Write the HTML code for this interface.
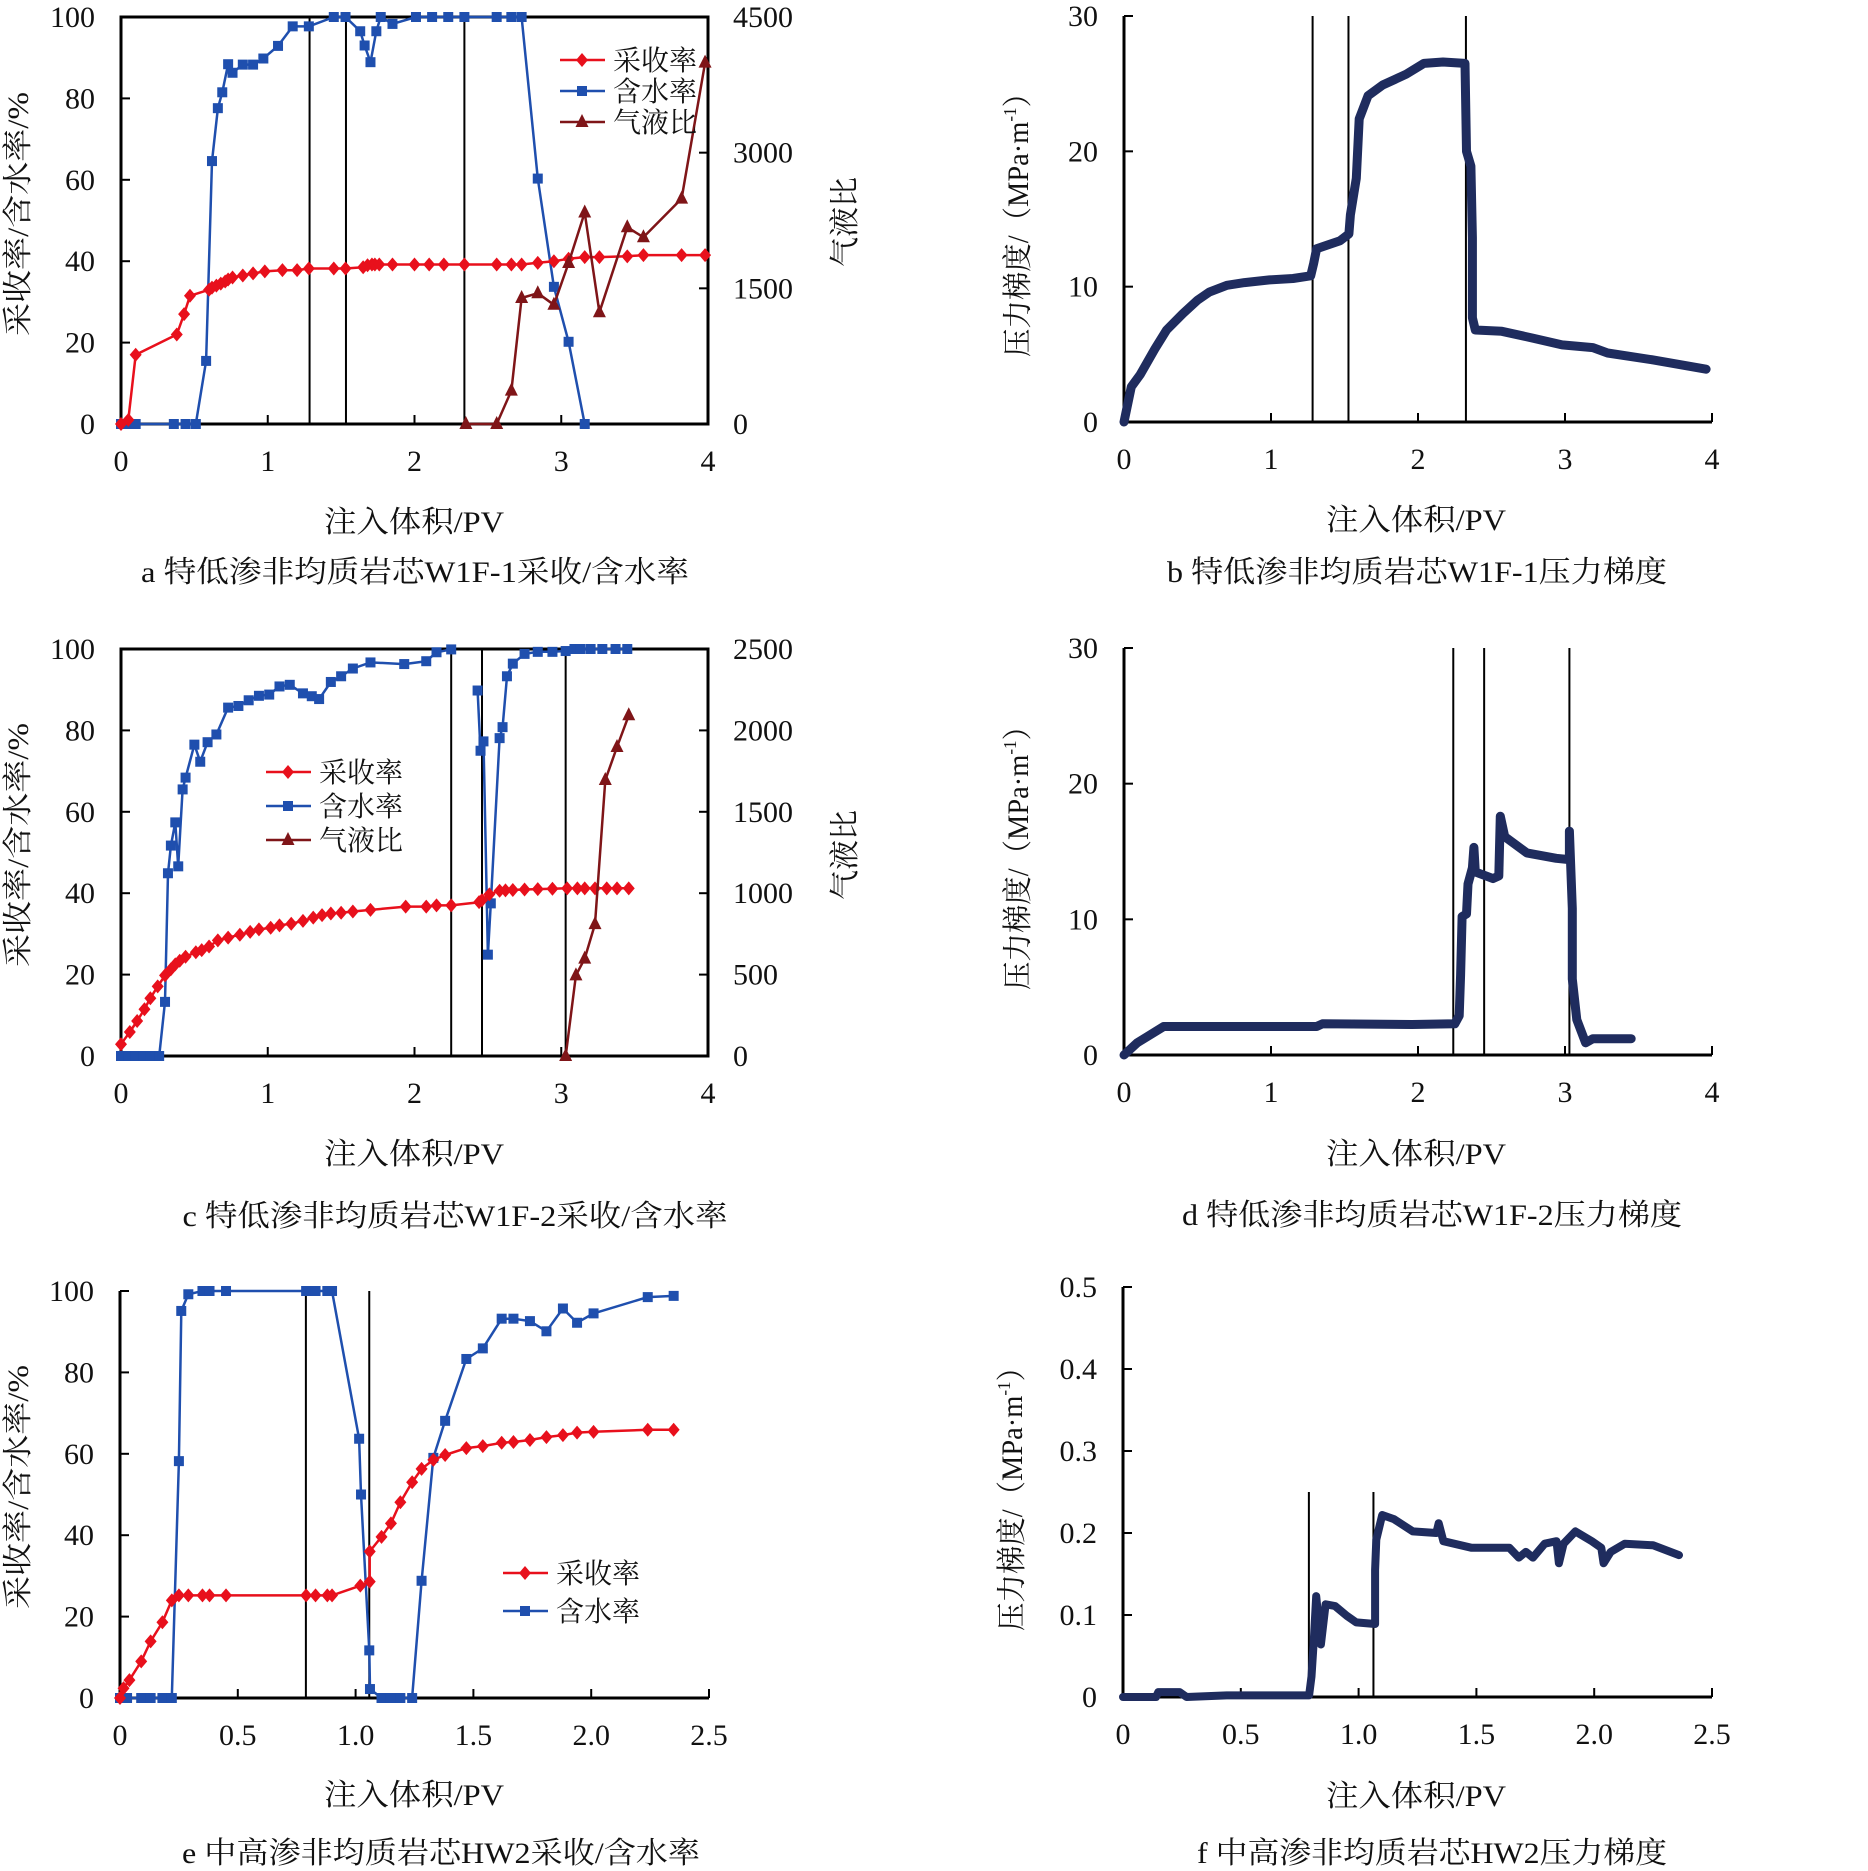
<!DOCTYPE html>
<html><head><meta charset="utf-8"><style>
html,body{margin:0;padding:0;background:#fff;}
svg{display:block;}
text{font-family:"Liberation Serif","Noto Serif CJK SC",serif;fill:#111;}
</style></head><body>
<svg id="fig" xmlns="http://www.w3.org/2000/svg" width="1868" height="1871" viewBox="0 0 1868 1871">
<rect x="0" y="0" width="1868" height="1871" fill="#fff"/>
<!-- chart a texts -->
<text transform="translate(28,214) rotate(-90)" text-anchor="middle" font-size="30" textLength="244" lengthAdjust="spacingAndGlyphs">采收率/含水率/%</text>
<text transform="translate(855,222) rotate(-90)" text-anchor="middle" font-size="30">气液比</text>
<text x="414" y="532" text-anchor="middle" font-size="30" textLength="180" lengthAdjust="spacingAndGlyphs">注入体积/PV</text>
<text x="415" y="582" text-anchor="middle" font-size="30" textLength="548" lengthAdjust="spacingAndGlyphs">a  特低渗非均质岩芯W1F-1采收/含水率</text>
<!-- chart b texts -->
<text transform="translate(1028,218) rotate(-90)" text-anchor="middle" font-size="30" textLength="278" lengthAdjust="spacingAndGlyphs">压力梯度/（MPa·m<tspan font-size="18" dy="-12">-1</tspan><tspan dy="12">）</tspan></text>
<text x="1416" y="530" text-anchor="middle" font-size="30" textLength="180" lengthAdjust="spacingAndGlyphs">注入体积/PV</text>
<text x="1417" y="582" text-anchor="middle" font-size="30" textLength="500" lengthAdjust="spacingAndGlyphs">b  特低渗非均质岩芯W1F-1压力梯度</text>
<!-- chart c texts -->
<text transform="translate(28,845) rotate(-90)" text-anchor="middle" font-size="30" textLength="244" lengthAdjust="spacingAndGlyphs">采收率/含水率/%</text>
<text transform="translate(855,855) rotate(-90)" text-anchor="middle" font-size="30">气液比</text>
<text x="414" y="1164" text-anchor="middle" font-size="30" textLength="180" lengthAdjust="spacingAndGlyphs">注入体积/PV</text>
<text x="455" y="1226" text-anchor="middle" font-size="30" textLength="545" lengthAdjust="spacingAndGlyphs">c  特低渗非均质岩芯W1F-2采收/含水率</text>
<!-- chart d texts -->
<text transform="translate(1028,851) rotate(-90)" text-anchor="middle" font-size="30" textLength="278" lengthAdjust="spacingAndGlyphs">压力梯度/（MPa·m<tspan font-size="18" dy="-12">-1</tspan><tspan dy="12">）</tspan></text>
<text x="1416" y="1164" text-anchor="middle" font-size="30" textLength="180" lengthAdjust="spacingAndGlyphs">注入体积/PV</text>
<text x="1432" y="1225" text-anchor="middle" font-size="30" textLength="500" lengthAdjust="spacingAndGlyphs">d  特低渗非均质岩芯W1F-2压力梯度</text>
<!-- chart e texts -->
<text transform="translate(28,1487) rotate(-90)" text-anchor="middle" font-size="30" textLength="244" lengthAdjust="spacingAndGlyphs">采收率/含水率/%</text>
<text x="414" y="1805" text-anchor="middle" font-size="30" textLength="180" lengthAdjust="spacingAndGlyphs">注入体积/PV</text>
<text x="441" y="1863" text-anchor="middle" font-size="30" textLength="518" lengthAdjust="spacingAndGlyphs">e  中高渗非均质岩芯HW2采收/含水率</text>
<!-- chart f texts -->
<text transform="translate(1022,1492) rotate(-90)" text-anchor="middle" font-size="30" textLength="278" lengthAdjust="spacingAndGlyphs">压力梯度/（MPa·m<tspan font-size="18" dy="-12">-1</tspan><tspan dy="12">）</tspan></text>
<text x="1416" y="1806" text-anchor="middle" font-size="30" textLength="180" lengthAdjust="spacingAndGlyphs">注入体积/PV</text>
<text x="1432" y="1863" text-anchor="middle" font-size="30" textLength="470" lengthAdjust="spacingAndGlyphs">f  中高渗非均质岩芯HW2压力梯度</text>
</svg>
<script>
// ---------- data ----------
const aXTicks = ["0","1","2","3","4"];
const aYTicks = ["0","20","40","60","80","100"];
const aY2Ticks = ["0","1500","3000","4500"];
const aVLines = [1.285, 1.533, 2.34];
const aRecovery = [[0,0],[0.05,1],[0.1,17],[0.38,22],[0.43,27],[0.47,31.5],[0.6,33],[0.62,33.5],[0.65,34],[0.68,34.5],[0.71,35],[0.73,35.5],[0.76,36],[0.83,36.5],[0.9,37],[0.98,37.5],[1.1,37.8],[1.2,37.8],[1.28,38.2],[1.45,38.2],[1.53,38.2],[1.65,38.5],[1.68,39],[1.71,39.2],[1.73,39.2],[1.76,39.2],[1.85,39.2],[2.0,39.2],[2.1,39.2],[2.2,39.2],[2.34,39.2],[2.56,39.2],[2.66,39.2],[2.73,39.2],[2.84,39.6],[2.95,40],[3.05,40.6],[3.16,41],[3.26,41],[3.45,41.2],[3.56,41.5],[3.82,41.5],[3.98,41.5]];
const aWaterCut = [[0,0],[0.05,0],[0.1,0],[0.36,0],[0.44,0],[0.51,0],[0.58,15.5],[0.62,64.6],[0.66,77.6],[0.69,81.5],[0.73,88.4],[0.76,86.3],[0.83,88.3],[0.9,88.3],[0.97,89.8],[1.07,92.9],[1.17,97.7],[1.28,97.7],[1.45,100],[1.53,100],[1.63,96.5],[1.66,93],[1.7,88.9],[1.74,96.5],[1.77,100],[1.85,98.3],[2.01,100],[2.12,100],[2.23,100],[2.34,100],[2.56,100],[2.66,100],[2.73,100],[2.84,60.3],[2.95,33.7],[3.05,20.2],[3.16,0]];
const aGasLiquid = [[2.35,0],[2.56,0],[2.66,369],[2.73,1393],[2.84,1446],[2.95,1318],[3.05,1780],[3.16,2338],[3.26,1235],[3.45,2175],[3.56,2065],[3.82,2492],[3.98,3995]];

const bXTicks = ["0","1","2","3","4"];
const bYTicks = ["0","10","20","30"];
const bVLines = [1.283, 1.527, 2.326];
const bPressure = [[0,0],[0.05,2.6],[0.11,3.5],[0.21,5.4],[0.29,6.8],[0.40,8.0],[0.50,9.0],[0.58,9.6],[0.70,10.1],[0.82,10.3],[0.99,10.5],[1.15,10.6],[1.27,10.8],[1.29,11.7],[1.31,12.8],[1.39,13.1],[1.47,13.4],[1.53,13.9],[1.54,15.3],[1.58,18],[1.60,22.4],[1.66,24.1],[1.76,24.9],[1.84,25.3],[1.92,25.7],[2.04,26.5],[2.17,26.6],[2.32,26.5],[2.33,20],[2.36,18.9],[2.37,13.6],[2.37,7.7],[2.39,6.8],[2.57,6.7],[2.78,6.2],[2.98,5.7],[3.19,5.5],[3.29,5.1],[3.59,4.6],[3.96,3.9]];

const cXTicks = ["0","1","2","3","4"];
const cYTicks = ["0","20","40","60","80","100"];
const cY2Ticks = ["0","500","1000","1500","2000","2500"];
const cVLines = [2.25, 2.46, 3.03];
const cRecovery = [[0,2.9],[0.06,5.9],[0.11,8.6],[0.16,11.5],[0.2,14.2],[0.25,17.1],[0.3,19.8],[0.34,21.3],[0.37,22.5],[0.4,23.4],[0.44,24.4],[0.51,25.5],[0.55,26],[0.6,26.9],[0.66,28.4],[0.73,29.1],[0.81,29.8],[0.88,30.5],[0.94,31.1],[1.02,31.5],[1.08,32.1],[1.16,32.5],[1.24,33.2],[1.31,34],[1.37,34.6],[1.43,35],[1.5,35.2],[1.58,35.5],[1.7,35.9],[1.94,36.7],[2.08,36.7],[2.15,37],[2.25,37],[2.44,37.8],[2.46,38.3],[2.51,39.7],[2.58,40.6],[2.62,40.7],[2.67,40.8],[2.75,40.9],[2.84,41],[2.94,41.1],[3.04,41.2],[3.11,41.2],[3.16,41.2],[3.23,41.2],[3.31,41.2],[3.38,41.2],[3.46,41.2]];
const cWaterCut1 = [[0,0],[0.05,0],[0.1,0],[0.15,0],[0.2,0],[0.26,0],[0.3,13.3],[0.32,44.9],[0.34,51.7],[0.37,57.4],[0.39,46.6],[0.42,65.5],[0.44,68.4],[0.5,76.5],[0.54,72.3],[0.59,77.1],[0.65,79],[0.73,85.6],[0.8,86],[0.87,87.4],[0.94,88.5],[1.01,88.8],[1.08,90.8],[1.15,91.2],[1.24,89.1],[1.3,88.4],[1.35,87.7],[1.43,91.9],[1.5,93.3],[1.58,95.2],[1.7,96.7],[1.93,96.3],[2.08,97],[2.15,99.2],[2.25,99.9]];
const cWaterCut2 = [[2.43,89.8],[2.45,75],[2.47,77.3],[2.5,24.9],[2.52,37.5],[2.58,78.1],[2.6,80.8],[2.63,93.3],[2.67,96.4],[2.75,98.8],[2.84,99.3],[2.94,99.3],[3.03,99.5],[3.09,100],[3.13,100],[3.2,100],[3.28,100],[3.37,100],[3.45,100]];
const cGasLiquid = [[3.03,0],[3.1,495],[3.16,598],[3.23,810],[3.3,1695],[3.38,1898],[3.46,2093]];

const dXTicks = ["0","1","2","3","4"];
const dYTicks = ["0","10","20","30"];
const dVLines = [2.24, 2.45, 3.03];
const dPressure = [[0,0],[0.09,0.9],[0.27,2.1],[0.33,2.1],[1.31,2.1],[1.35,2.3],[1.96,2.25],[2.25,2.3],[2.28,2.9],[2.29,5.9],[2.3,10.2],[2.33,10.4],[2.34,12.6],[2.37,13.8],[2.38,15.3],[2.39,13.5],[2.51,13],[2.55,13.2],[2.56,17.6],[2.59,16.1],[2.74,14.9],[2.94,14.5],[3.03,14.4],[3.03,16.5],[3.05,10.8],[3.05,5.6],[3.08,2.6],[3.14,0.9],[3.19,1.2],[3.45,1.2]];

const eXTicks = ["0","0.5","1.0","1.5","2.0","2.5"];
const eYTicks = ["0","20","40","60","80","100"];
const eVLines = [0.789, 1.058];
const eRecovery = [[0,0],[0.015,2.4],[0.04,4.4],[0.09,9],[0.13,13.9],[0.18,18.6],[0.22,24],[0.25,25.2],[0.29,25.2],[0.35,25.2],[0.38,25.2],[0.45,25.2],[0.79,25.2],[0.83,25.2],[0.88,25.2],[0.9,25.2],[1.02,27.6],[1.06,28.6],[1.06,36],[1.11,39.6],[1.15,42.9],[1.19,48.1],[1.24,53],[1.28,56.3],[1.33,58.5],[1.38,59.7],[1.47,61.4],[1.54,61.9],[1.62,62.7],[1.67,62.9],[1.74,63.4],[1.81,64.1],[1.88,64.6],[1.94,65.2],[2.01,65.4],[2.24,65.9],[2.35,65.9]];
const eWaterCut = [[0,0],[0.03,0],[0.09,0],[0.13,0],[0.18,0],[0.22,0],[0.25,58.2],[0.26,95.1],[0.29,99.2],[0.35,100],[0.38,100],[0.45,100],[0.79,100],[0.83,100],[0.88,100],[0.9,100],[1.015,63.7],[1.023,50],[1.058,11.7],[1.061,2.2],[1.11,0],[1.15,0],[1.19,0],[1.24,0],[1.28,28.8],[1.33,59],[1.38,68.1],[1.47,83.3],[1.54,85.9],[1.62,93.2],[1.67,93.2],[1.74,92.6],[1.81,90.1],[1.88,95.7],[1.94,92.2],[2.01,94.5],[2.24,98.5],[2.35,98.8]];

const fXTicks = ["0","0.5","1.0","1.5","2.0","2.5"];
const fYTicks = ["0","0.1","0.2","0.3","0.4","0.5"];
const fVLines = [0.789, 1.063];
const fPressure = [[0,0],[0.14,0],[0.15,0.006],[0.24,0.006],[0.27,0],[0.44,0.002],[0.79,0.002],[0.8,0.025],[0.81,0.069],[0.82,0.123],[0.84,0.064],[0.86,0.113],[0.9,0.111],[0.95,0.099],[0.99,0.091],[1.07,0.089],[1.07,0.155],[1.075,0.192],[1.1,0.222],[1.15,0.217],[1.23,0.202],[1.33,0.2],[1.34,0.212],[1.36,0.19],[1.48,0.182],[1.64,0.182],[1.68,0.17],[1.71,0.177],[1.74,0.17],[1.79,0.187],[1.84,0.19],[1.85,0.163],[1.87,0.187],[1.92,0.202],[1.99,0.19],[2.03,0.182],[2.04,0.163],[2.07,0.177],[2.13,0.187],[2.25,0.185],[2.36,0.173]];

// ---------- drawing ----------
const NS = "http://www.w3.org/2000/svg";
const svg = document.getElementById("fig");
function mk(tag, attrs, parent){
  const e = document.createElementNS(NS, tag);
  for (const k in attrs) e.setAttribute(k, attrs[k]);
  parent.appendChild(e);
  return e;
}
function makeChart(id, box, xMax, yMax, y2Max){
  const g = mk("g", {}, svg);
  
  
  const sx = v => box.l + v / xMax * (box.r - box.l);
  const sy = v => box.b - v / yMax * (box.b - box.t);
  const sy2 = y2Max ? (v => box.b - v / y2Max * (box.b - box.t)) : null;
  return {g, sx, sy, sy2, box, xMax, yMax, y2Max, id};
}
function axes(c, xTicks, yTicks, y2Ticks, boxed){
  const {g, box} = c;
  if (boxed){
    const r = mk("rect", {x:box.l, y:box.t, width:box.r-box.l, height:box.b-box.t, fill:"none", stroke:"#000", "stroke-width":3}, g);
    
    
  } else {
    const ya = mk("line", {x1:box.l, y1:box.t, x2:box.l, y2:box.b, stroke:"#000", "stroke-width":3}, g);
    
    
    const xa = mk("line", {x1:box.l, y1:box.b, x2:box.r, y2:box.b, stroke:"#000", "stroke-width":3}, g);
    
    
  }
  xTicks.forEach((t, i) => {
    const v = i * c.xMax / (xTicks.length - 1);
    const x = c.sx(v);
    const tk = mk("line", {x1:x, y1:box.b, x2:x, y2:box.b-9, stroke:"#000", "stroke-width":2}, g);
    
    
    const tx = mk("text", {x:x, y:box.b+47, "text-anchor":"middle", "font-size":30}, g);
    tx.textContent = t;
    
    
  });
  yTicks.forEach((t, i) => {
    const v = i * c.yMax / (yTicks.length - 1);
    const y = c.sy(v);
    const tk = mk("line", {x1:box.l, y1:y, x2:box.l+9, y2:y, stroke:"#000", "stroke-width":2}, g);
    
    
    const tx = mk("text", {x:box.l-26, y:y+10, "text-anchor":"end", "font-size":30}, g);
    tx.textContent = t;
    
    
  });
  if (y2Ticks){
    y2Ticks.forEach((t, i) => {
      const v = i * c.y2Max / (y2Ticks.length - 1);
      const y = c.sy2(v);
      const tk = mk("line", {x1:box.r, y1:y, x2:box.r-9, y2:y, stroke:"#000", "stroke-width":2}, g);
      
      
      const tx = mk("text", {x:box.r+25, y:y+10, "text-anchor":"start", "font-size":30}, g);
      tx.textContent = t;
      
      
    });
  }
}
function vlines(c, xs, topVal){
  xs.forEach(v => {
    const x = c.sx(v);
    const ytop = topVal === undefined ? c.box.t : c.sy(topVal);
    const l = mk("line", {x1:x, y1:ytop, x2:x, y2:c.box.b, stroke:"#000", "stroke-width":2}, c.g);
    
    
  });
}
function marker(g, shape, x, y, color, name){
  let m;
  if (shape === "diamond") m = mk("path", {d:`M${x},${y-7}L${x+6},${y}L${x},${y+7}L${x-6},${y}Z`, fill:color}, g);
  else if (shape === "square") m = mk("rect", {x:x-5, y:y-5, width:10, height:10, fill:color}, g);
  else m = mk("path", {d:`M${x},${y-8}L${x+6.5},${y+5}L${x-6.5},${y+5}Z`, fill:color}, g);
  
  
}
function series(c, data, useY2, color, shape, name, width){
  const fy = useY2 ? c.sy2 : c.sy;
  const d = data.map((p, i) => (i ? "L" : "M") + c.sx(p[0]).toFixed(1) + "," + fy(p[1]).toFixed(1)).join("");
  const pl = mk("path", {d:d, fill:"none", stroke:color, "stroke-width":width || 2.5, "stroke-linejoin":"round", "stroke-linecap":"round"}, c.g);
  
  
  if (shape) data.forEach(p => marker(c.g, shape, c.sx(p[0]), fy(p[1]), color, name + "-point"));
}
function legend(c, x, ys, items){
  items.forEach((it, i) => {
    const y = ys[i];
    const l = mk("line", {x1:x, y1:y, x2:x+45, y2:y, stroke:it[1], "stroke-width":2.5}, c.g);
    
    
    marker(c.g, it[2], x+22, y, it[1], "legend-marker");
    const t = mk("text", {x:x+53, y:y+10, "font-size":28}, c.g);
    t.textContent = it[0];
    
    
  });
}
const RED = "#e8101c", BLUE = "#1f4fae", DRED = "#7f1518", NAVY = "#1f2c5e";

// chart a
const ca = makeChart("a", {l:121, r:708, t:17, b:424}, 4, 100, 4500);
axes(ca, aXTicks, aYTicks, aY2Ticks, true);
vlines(ca, aVLines);
series(ca, aWaterCut, false, BLUE, "square", "a-water-cut");
series(ca, aRecovery, false, RED, "diamond", "a-recovery");
series(ca, aGasLiquid, true, DRED, "triangle", "a-gas-liquid");
legend(ca, 560, [60, 91, 122], [["采收率", RED, "diamond"], ["含水率", BLUE, "square"], ["气液比", DRED, "triangle"]]);

// chart b
const cb = makeChart("b", {l:1124, r:1712, t:16, b:422}, 4, 30);
axes(cb, bXTicks, bYTicks, null, false);
vlines(cb, bVLines);
series(cb, bPressure, false, NAVY, null, "b-pressure", 9);

// chart c
const cc = makeChart("c", {l:121, r:708, t:649, b:1056}, 4, 100, 2500);
axes(cc, cXTicks, cYTicks, cY2Ticks, true);
vlines(cc, cVLines);
series(cc, cWaterCut1, false, BLUE, "square", "c-water-cut");
series(cc, cWaterCut2, false, BLUE, "square", "c-water-cut-late");
series(cc, cRecovery, false, RED, "diamond", "c-recovery");
series(cc, cGasLiquid, true, DRED, "triangle", "c-gas-liquid");
legend(cc, 266, [772, 806, 840], [["采收率", RED, "diamond"], ["含水率", BLUE, "square"], ["气液比", DRED, "triangle"]]);

// chart d
const cd = makeChart("d", {l:1124, r:1712, t:648, b:1055}, 4, 30);
axes(cd, dXTicks, dYTicks, null, false);
vlines(cd, dVLines);
series(cd, dPressure, false, NAVY, null, "d-pressure", 9);

// chart e
const ce = makeChart("e", {l:120, r:709, t:1291, b:1698}, 2.5, 100);
axes(ce, eXTicks, eYTicks, null, false);
vlines(ce, eVLines, 100);
series(ce, eWaterCut, false, BLUE, "square", "e-water-cut");
series(ce, eRecovery, false, RED, "diamond", "e-recovery");
legend(ce, 503, [1573, 1611], [["采收率", RED, "diamond"], ["含水率", BLUE, "square"]]);

// chart f
const cf = makeChart("f", {l:1123, r:1712, t:1287, b:1697}, 2.5, 0.5);
axes(cf, fXTicks, fYTicks, null, false);
vlines(cf, fVLines, 0.25);
series(cf, fPressure, false, NAVY, null, "f-pressure", 8);
</script>
</body></html>
